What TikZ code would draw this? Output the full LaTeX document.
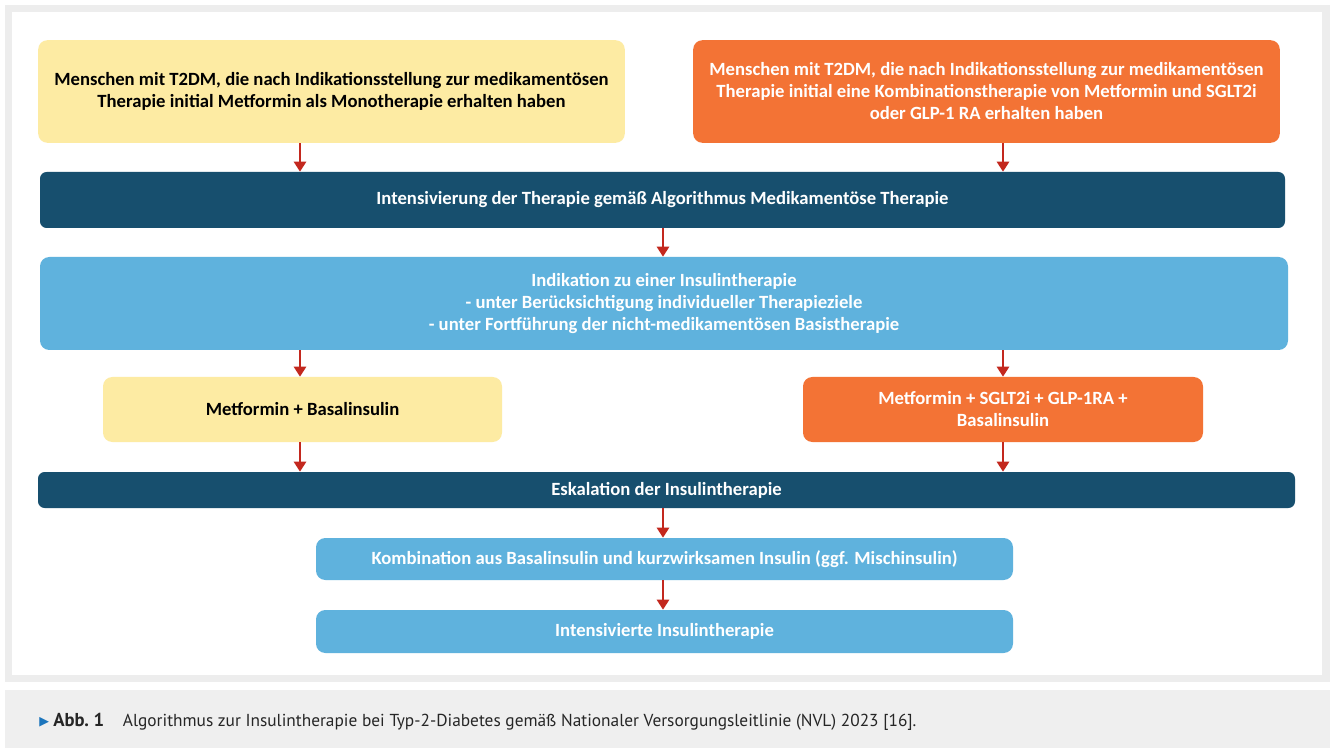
\documentclass[tikz,border=0pt]{standalone}
\usepackage{xcolor}
\usepackage{fontspec}
\setmainfont{Carlito}
\newfontfamily\capfont{PT Sans}
\newfontfamily\symfont{DejaVu Sans}
\usepackage{tikz}
\usetikzlibrary{arrows.meta, positioning}

\definecolor{paleyellow}{HTML}{FDEBA3}
\definecolor{deeporange}{HTML}{F37335}
\definecolor{navybar}{HTML}{174F6E}
\definecolor{skyblue}{HTML}{5FB2DD}
\definecolor{arrowred}{HTML}{C3281E}
\definecolor{framegray}{HTML}{EDEDED}
\definecolor{capgray}{HTML}{EFEFEF}
\definecolor{capblue}{HTML}{1C75BC}

\begin{document}
\begin{tikzpicture}[
    x=0.75pt, y=-0.75pt,
    block/.style={rectangle, rounded corners=7pt, inner sep=0pt, align=center, font=\bfseries\fontsize{14}{16.5}\selectfont},
    start/.style={block, fill=paleyellow, text=black, minimum width=440pt, minimum height=77pt},
    combo/.style={block, fill=deeporange, text=white, minimum width=440pt, minimum height=77pt},
    stage/.style={block, fill=navybar, text=white, rounded corners=5pt},
    insulin/.style={block, fill=skyblue, text=white},
    arr/.style={-{Triangle[length=7.5pt, width=9pt]}, line width=2.2pt, draw=arrowred},
]
    % page and frame
    \useasboundingbox (0,0) rectangle (1335,748);
    \fill[white] (0,0) rectangle (1335,748);
    \fill[framegray] (5,5) rectangle (1330,682);
    \fill[white] (12,12) rectangle (1322,675);
    \fill[capgray] (5,690) rectangle (1330,748);

    % arrow columns
    \coordinate (lcol) at (300,0);
    \coordinate (mcol) at (663,0);
    \coordinate (rcol) at (1003,0);

    \node[start] (mono) at (331.5,91.5) {Menschen mit T2DM, die nach Indikationsstellung zur medikamentösen\\Therapie initial Metformin als Monotherapie erhalten haben};
    \node[combo] (kombi) at (986.5,91.5) {Menschen mit T2DM, die nach Indikationsstellung zur medikamentösen\\Therapie initial eine Kombinationstherapie von Metformin und SGLT2i\\oder GLP-1 RA erhalten haben};
    \node[stage, minimum width=933.75pt, minimum height=42pt] (intens) at (662.5,200) {Intensivierung der Therapie gemäß Algorithmus Medikamentöse Therapie};
    \node[insulin, minimum width=936pt, minimum height=69.75pt] (indik) at (664,303.5) {Indikation zu einer Insulintherapie\\- unter Berücksichtigung individueller Therapieziele\\- unter Fortführung der nicht-medikamentösen Basistherapie};
    \node[start, minimum width=299.25pt, minimum height=48.75pt] (basal) at (302.5,409.5) {Metformin + Basalinsulin};
    \node[combo, minimum width=300pt, minimum height=48.75pt] (triple) at (1003,409.5) {Metformin + SGLT2i + GLP-1RA +\\Basalinsulin};
    \node[stage, minimum width=942.75pt, minimum height=27pt] (eskal) at (666.5,490) {Eskalation der Insulintherapie};
    \node[insulin, minimum width=522.75pt, minimum height=31.5pt] (misch) at (664.5,559) {Kombination aus Basalinsulin und kurzwirksamen Insulin (ggf. Mischinsulin)};
    \node[insulin, minimum width=522.75pt, minimum height=32.25pt] (ict) at (664.5,631.5) {Intensivierte Insulintherapie};

    \draw[arr] (mono.south -| lcol) -- (intens.north -| lcol);
    \draw[arr] (kombi.south -| rcol) -- (intens.north -| rcol);
    \draw[arr] (intens.south -| mcol) -- (indik.north -| mcol);
    \draw[arr] (indik.south -| lcol) -- (basal.north -| lcol);
    \draw[arr] (indik.south -| rcol) -- (triple.north -| rcol);
    \draw[arr] (basal.south -| lcol) -- (eskal.north -| lcol);
    \draw[arr] (triple.south -| rcol) -- (eskal.north -| rcol);
    \draw[arr] (eskal.south -| mcol) -- (misch.north -| mcol);
    \draw[arr] (misch.south -| mcol) -- (ict.north -| mcol);

    % caption
    \node[anchor=west, inner sep=0pt, text=capblue, font=\symfont\fontsize{9.5}{11}\selectfont] (mark) at (39,722) {▶};
    \node[anchor=west, inner sep=0pt, font=\capfont\fontsize{13}{15}\selectfont, text=black!85] (caption) at (53,722) {{\fontsize{14}{15}\selectfont\textbf{Abb.\ 1}}\hspace{14pt}Algorithmus zur Insulintherapie bei Typ-2-Diabetes gemäß Nationaler Versorgungsleitlinie (NVL) 2023 [16].};
\end{tikzpicture}
\end{document}
